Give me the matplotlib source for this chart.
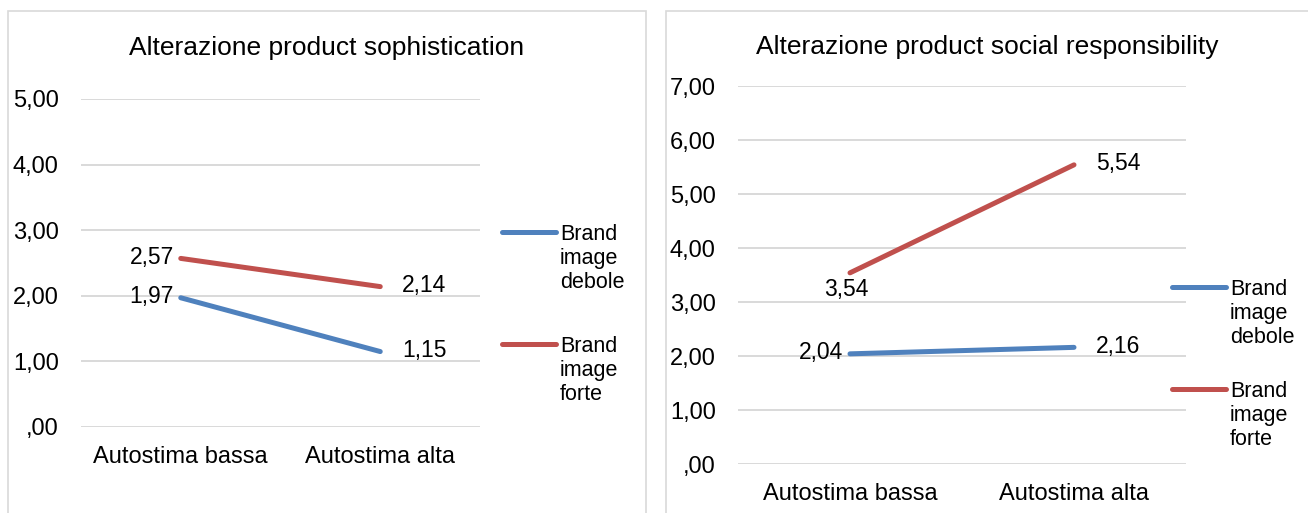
import matplotlib
matplotlib.use('Agg')
import matplotlib.pyplot as plt
from matplotlib.patches import Rectangle
from matplotlib.lines import Line2D
from matplotlib.ticker import FuncFormatter

plt.rcParams['font.family'] = ['Liberation Sans', 'DejaVu Sans']

### Data
categories = ['Autostima bassa', 'Autostima alta']
series_names = ['Brand\nimage\ndebole', 'Brand\nimage\nforte']

soph_title = 'Alterazione product sophistication'
soph_debole = [1.97, 1.15]
soph_forte = [2.57, 2.14]

resp_title = 'Alterazione product social responsibility'
resp_debole = [2.04, 2.16]
resp_forte = [3.54, 5.54]

BLUE = '#4F81BD'
RED = '#C0504D'
GRID = '#D9D9D9'

W, H = 1308, 513


def fx(px):
    return px / W


def fy(py):
    return 1 - py / H


def fmt(v, pos=None):
    s = '{:.2f}'.format(v).replace('.', ',')
    if s.startswith('0,'):
        s = s[1:]
    return s


# label placement: offset in pixels and alignment
PLACE = {
    'left': dict(off=(-7, 1), ha='right', va='center'),
    'right': dict(off=(22, 1), ha='left', va='center'),
    'below': dict(off=(-4, -5), ha='center', va='top'),
}


def draw_panel(fig, rect, ymax, series, places, leg_x, leg_y):
    ax = fig.add_axes(rect)
    x = range(len(categories))
    for (vals, color), pl in zip(series, places):
        ax.plot(x, vals, color=color, lw=3.6, solid_capstyle='round')
        for xi, v, p in zip(x, vals, pl):
            d = PLACE[p]
            ax.annotate(fmt(v), (xi, v), xytext=(d['off'][0] / 1.389, d['off'][1] / 1.389),
                        textcoords='offset points', ha=d['ha'], va=d['va'], fontsize=16.5)
    ax.set_xlim(-0.5, len(categories) - 0.5)
    ax.set_ylim(0, ymax)
    ax.set_yticks(range(ymax + 1))
    ax.yaxis.set_major_formatter(FuncFormatter(fmt))
    ax.set_xticks(list(x))
    ax.set_xticklabels(categories)
    ax.grid(axis='y', color=GRID, lw=1.4)
    ax.set_axisbelow(True)
    for s in ax.spines.values():
        s.set_visible(False)
    ax.tick_params(axis='y', length=0, pad=16, labelsize=17)
    ax.tick_params(axis='x', length=0, pad=14, labelsize=17)

    # legend
    for (vals, color), name, ly in zip(series, series_names, leg_y):
        fig.add_artist(Line2D([fx(leg_x), fx(leg_x + 54)], [fy(ly), fy(ly)], color=color,
                              lw=3.6, solid_capstyle='round'))
        fig.text(fx(leg_x + 58), fy(ly - 8), name, ha='left', va='top',
                 fontsize=15.5, linespacing=1.2)
    return ax


fig = plt.figure(figsize=(W / 100, H / 100), dpi=100)

# panel frames
fig.add_artist(Rectangle((fx(8), -0.1), fx(646 - 8), fy(11) + 0.1, fill=False,
                         ec=GRID, lw=1.2))
fig.add_artist(Rectangle((fx(666), -0.1), fx(700), fy(11) + 0.1, fill=False,
                         ec=GRID, lw=1.2))

fig.text(fx(327), fy(48), soph_title, ha='center', va='center', fontsize=19)
fig.text(fx(987), fy(47), resp_title, ha='center', va='center', fontsize=19)

draw_panel(fig, [fx(81), fy(427), fx(480 - 81), (427 - 99) / H], 5,
           [(soph_debole, BLUE), (soph_forte, RED)],
           [['left', 'right'], ['left', 'right']],
           502, [232, 344])

draw_panel(fig, [fx(738), fy(464), fx(1186 - 738), (464 - 86) / H], 7,
           [(resp_debole, BLUE), (resp_forte, RED)],
           [['left', 'right'], ['below', 'right']],
           1172, [287, 389])

fig.savefig('out.png', dpi=100)
plt.close(fig)
